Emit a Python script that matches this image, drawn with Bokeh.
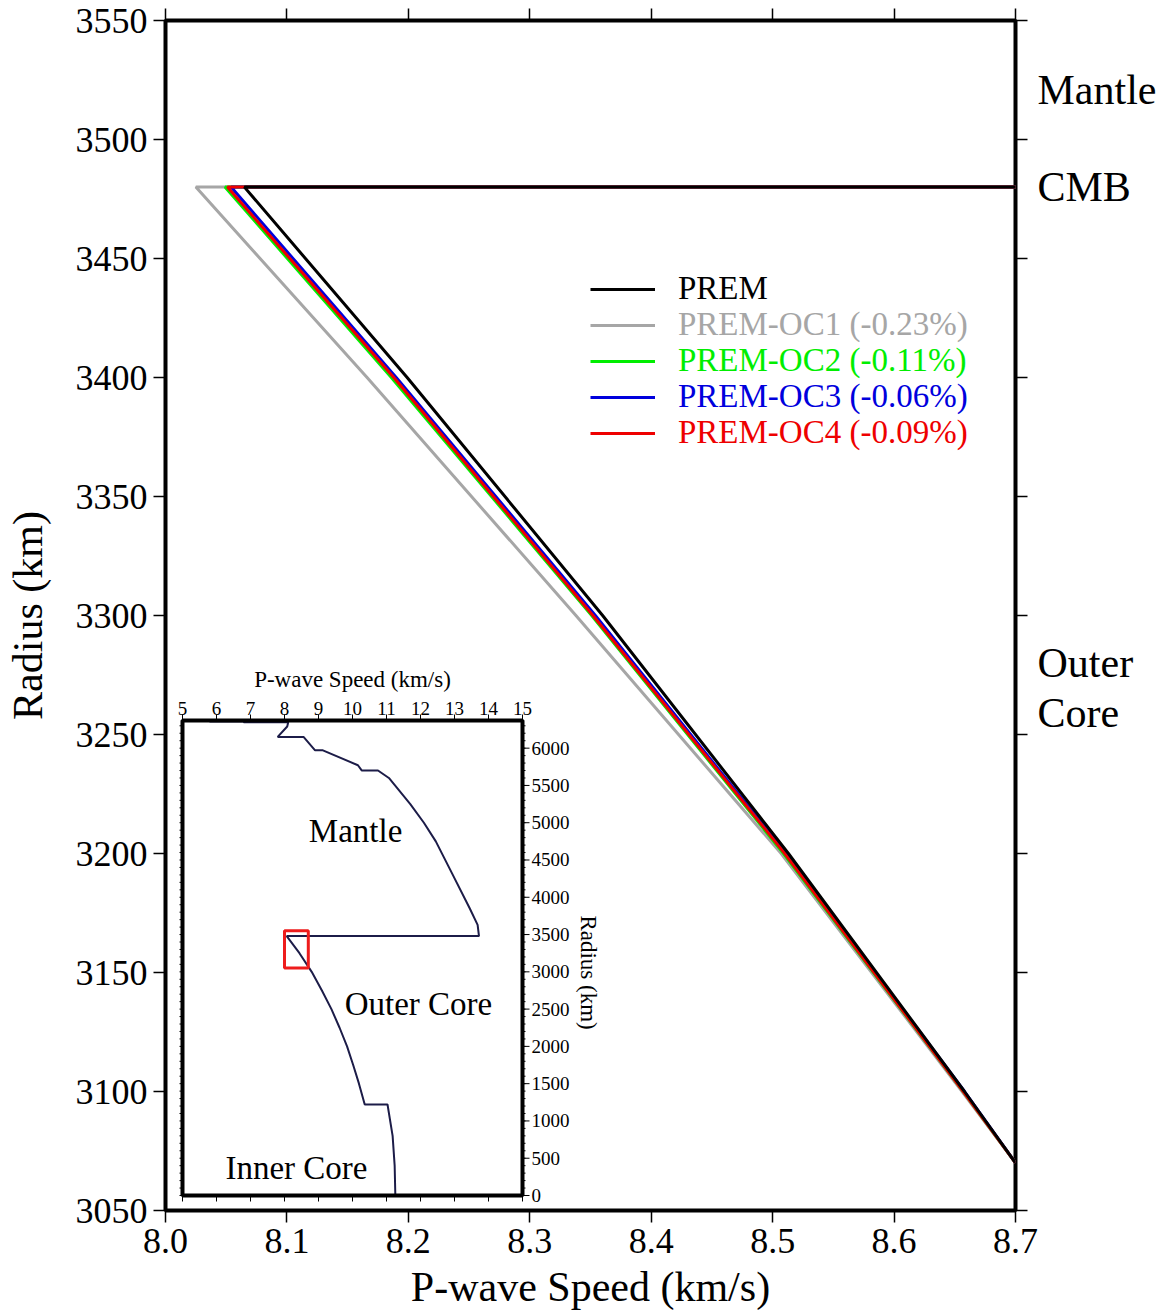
import numpy as np
from bokeh.plotting import figure
from bokeh.models import Range1d, LinearAxis, FixedTicker, Legend, LegendItem
from bokeh.embed import file_html
from bokeh.resources import INLINE
from bokeh.core.properties import value

FONT = "Liberation Serif"

# ---------------- data ----------------
x_ticks = [8.0, 8.1, 8.2, 8.3, 8.4, 8.5, 8.6, 8.7]
x_tick_labels = ["8.0", "8.1", "8.2", "8.3", "8.4", "8.5", "8.6", "8.7"]
y_ticks = [3050, 3100, 3150, 3200, 3250, 3300, 3350, 3400, 3450, 3500, 3550]
y_tick_labels = [str(v) for v in y_ticks]

cmb_radius = 3480
mantle_speed_at_cmb = 13.72
radius_main = [3480, 3400, 3300, 3200, 3100, 3070]
prem = [8.065, 8.199, 8.360, 8.513, 8.658, 8.700]
prem_oc1 = [8.025, 8.166, 8.338, 8.507, 8.656, 8.700]
prem_oc2 = [8.049, 8.186, 8.351, 8.509, 8.657, 8.700]
prem_oc3 = [8.054, 8.190, 8.354, 8.511, 8.658, 8.700]
prem_oc4 = [8.051, 8.188, 8.352, 8.510, 8.657, 8.700]

series_names = ["PREM", "PREM-OC1 (-0.23%)", "PREM-OC2 (-0.11%)",
                "PREM-OC3 (-0.06%)", "PREM-OC4 (-0.09%)"]
series_values = [prem, prem_oc1, prem_oc2, prem_oc3, prem_oc4]
series_colors = ["#000000", "#a6a6a6", "#00ee00", "#0000dd", "#ee0000"]

region_labels = ["Mantle", "CMB", "Outer", "Core"]
region_label_radius = [3521, 3480, 3280, 3259]

# inset: whole-Earth PREM P-wave profile
inset_radius = [6371, 6356, 6356, 6347, 6347, 6291, 6151, 6151, 5971, 5971,
                5771, 5701, 5701, 5600, 5250, 5000, 4750, 4300, 3850, 3630,
                3480, 3480, 3250, 3000, 2750, 2500, 2250, 2000, 1750, 1500,
                1221, 1221, 800, 400, 0]
inset_speed = [5.80, 5.80, 6.80, 6.80, 8.11, 8.08, 7.80, 8.56, 8.90, 9.13,
               10.16, 10.27, 10.75, 11.07, 11.70, 12.10, 12.45, 12.95, 13.45, 13.68,
               13.72, 8.065, 8.44, 8.80, 9.10, 9.38, 9.62, 9.84, 10.02, 10.19,
               10.36, 11.03, 11.18, 11.24, 11.26]
inset_x_ticks = [5, 6, 7, 8, 9, 10, 11, 12, 13, 14, 15]
inset_y_ticks = [0, 500, 1000, 1500, 2000, 2500, 3000, 3500, 4000, 4500, 5000, 5500, 6000]
inset_y_minor = list(range(0, 6371, 100))
inset_region_labels = ["Mantle", "Outer Core", "Inner Core"]
inset_region_x = [10.09, 11.94, 8.35]
inset_region_y = [4895, 2575, 375]
earth_radius = 6371

# ---------------- layout constants (pixels) ----------------
F_L, F_R, F_T, F_B = 165, 1015, 20, 1210
IN_L, IN_R, IN_T, IN_B = 182, 522, 720, 1195
W, H = 1169, 1315

xr = Range1d(x_ticks[0], x_ticks[-1])
yr = Range1d(y_ticks[0], y_ticks[-1])

p = figure(frame_width=F_R - F_L, frame_height=F_B - F_T,
           x_range=xr, y_range=yr,
           min_border_left=F_L, min_border_right=W - F_R,
           min_border_top=F_T, min_border_bottom=H - F_B,
           output_backend="svg", toolbar_location=None,
           x_axis_label="P-wave Speed (km/s)", y_axis_label="Radius (km)")
p.grid.grid_line_color = None
p.outline_line_color = "black"
p.outline_line_width = 4
p.outline_line_alpha = 1.0
p.background_fill_color = "white"
p.border_fill_color = "white"

bottom_ax = p.xaxis[0]
left_ax = p.yaxis[0]
bottom_ax.ticker = FixedTicker(ticks=x_ticks)
bottom_ax.major_label_overrides = dict(zip(x_ticks, x_tick_labels))
left_ax.ticker = FixedTicker(ticks=y_ticks)
left_ax.major_label_overrides = dict(zip(y_ticks, y_tick_labels))


def style_axis(ax, show_labels=True):
    ax.axis_line_color = None
    ax.major_tick_line_color = "black"
    ax.major_tick_line_width = 1.5
    ax.major_tick_out = 12
    ax.major_tick_in = 0
    ax.minor_tick_line_color = None
    ax.major_label_text_font = FONT
    ax.major_label_text_font_size = "36px"
    ax.major_label_text_color = "black" if show_labels else None
    ax.axis_label_text_font = FONT
    ax.axis_label_text_font_size = "42px"
    ax.axis_label_text_font_style = "normal"
    ax.axis_label_text_color = "black"


style_axis(bottom_ax)
style_axis(left_ax)
bottom_ax.major_label_standoff = 6
bottom_ax.axis_label_standoff = 8
left_ax.major_label_standoff = 6
left_ax.axis_label_standoff = 22

top_ax = LinearAxis(ticker=FixedTicker(ticks=x_ticks))
style_axis(top_ax, show_labels=False)
top_ax.major_label_text_font_size = "1px"
top_ax.major_label_standoff = 0
p.add_layout(top_ax, "above")

right_ax = LinearAxis(ticker=FixedTicker(ticks=y_ticks))
style_axis(right_ax, show_labels=False)
right_ax.major_label_text_font_size = "1px"
right_ax.major_label_standoff = 0
p.add_layout(right_ax, "right")

# region names to the right of the frame, as a tick-less second right axis
region_ax = LinearAxis(ticker=FixedTicker(ticks=region_label_radius),
                       major_label_overrides=dict(zip(region_label_radius, region_labels)))
region_ax.axis_line_color = None
region_ax.major_tick_line_color = None
region_ax.major_tick_out = 0
region_ax.major_tick_in = 0
region_ax.minor_tick_line_color = None
region_ax.major_label_standoff = 10
region_ax.major_label_text_font = FONT
region_ax.major_label_text_font_size = "42px"
region_ax.major_label_text_color = "black"
p.add_layout(region_ax, "right")

# ---------------- main lines ----------------
renderers = {}
draw_order = [1, 2, 3, 4, 0]
for i in draw_order:
    xs = [mantle_speed_at_cmb] + series_values[i]
    ys = [cmb_radius] + radius_main
    renderers[i] = p.line(xs, ys, line_color=series_colors[i], line_width=3)

# legends (one per series so each label has its own colour)
row_centers = [289, 325, 361, 397, 433]
item_h = 36
for i in range(5):
    leg = Legend(items=[LegendItem(label=series_names[i], renderers=[renderers[i]])],
                 location=(590 - F_L, F_B - (row_centers[i] + item_h / 2)),
                 label_text_color=series_colors[i], label_text_font=FONT,
                 label_text_font_size="33px", glyph_width=65, glyph_height=item_h,
                 label_height=item_h, label_standoff=23, padding=0, margin=0,
                 spacing=0, border_line_color=None, background_fill_alpha=0)
    p.add_layout(leg)

# ---------------- inset (own ranges mapped into the inset box) ----------------
ix0, ix1 = inset_x_ticks[0], inset_x_ticks[-1]
sx = (IN_R - IN_L) / (ix1 - ix0)
sy = (IN_B - IN_T) / earth_radius
p.extra_x_ranges = {"ix": Range1d(ix0 - (IN_L - F_L) / sx, ix1 + (F_R - IN_R) / sx)}
p.extra_y_ranges = {"iy": Range1d(0 - (F_B - IN_B) / sy, earth_radius + (IN_T - F_T) / sy)}
kw = dict(x_range_name="ix", y_range_name="iy")

p.quad(left=[ix0], right=[ix1], bottom=[0], top=[earth_radius],
       fill_color="white", line_color=None, **kw)
p.line(inset_speed, inset_radius, line_color="#1c1c48", line_width=2, **kw)
p.quad(left=[xr.start], right=[xr.end], bottom=[yr.start], top=[yr.end],
       fill_color=None, line_color="#ee1c1c", line_width=3, **kw)
p.quad(left=[ix0], right=[ix1], bottom=[0], top=[earth_radius],
       fill_color=None, line_color="black", line_width=4, **kw)

# inset ticks
tick_style = dict(line_color="black", line_width=1, length_units="screen", **kw)
p.ray(x=inset_x_ticks, y=[earth_radius] * len(inset_x_ticks), length=6,
      angle=np.pi / 2, **tick_style)
p.ray(x=inset_x_ticks, y=[0] * len(inset_x_ticks), length=6,
      angle=-np.pi / 2, **tick_style)
p.ray(x=[ix1] * len(inset_y_ticks), y=inset_y_ticks, length=7, angle=0, **tick_style)
p.ray(x=[ix1] * len(inset_y_minor), y=inset_y_minor, length=3, angle=0, **tick_style)
p.ray(x=[ix0] * len(inset_y_minor), y=inset_y_minor, length=3, angle=np.pi, **tick_style)

p.text(x=inset_x_ticks, y=[earth_radius] * len(inset_x_ticks),
       text=[str(v) for v in inset_x_ticks], y_offset=-6,
       text_align="center", text_baseline="bottom",
       text_font=value(FONT), text_font_size=value("19px"), text_color="black", **kw)
p.text(x=[ix1] * len(inset_y_ticks), y=inset_y_ticks,
       text=[str(v) for v in inset_y_ticks], x_offset=9,
       text_align="left", text_baseline="middle",
       text_font=value(FONT), text_font_size=value("19px"), text_color="black", **kw)
p.text(x=[(ix0 + ix1) / 2], y=[earth_radius], text=["P-wave Speed (km/s)"],
       y_offset=-41, text_align="center", text_baseline="middle",
       text_font=value(FONT), text_font_size=value("23px"), text_color="black", **kw)
p.text(x=[ix1], y=[2990], text=["Radius (km)"], x_offset=66, angle=-np.pi / 2,
       text_align="center", text_baseline="middle",
       text_font=value(FONT), text_font_size=value("23px"), text_color="black", **kw)
p.text(x=inset_region_x, y=inset_region_y, text=inset_region_labels,
       text_align="center", text_baseline="middle",
       text_font=value(FONT), text_font_size=value("33px"), text_color="black", **kw)

open("out.html", "w").write(file_html(p, INLINE))
